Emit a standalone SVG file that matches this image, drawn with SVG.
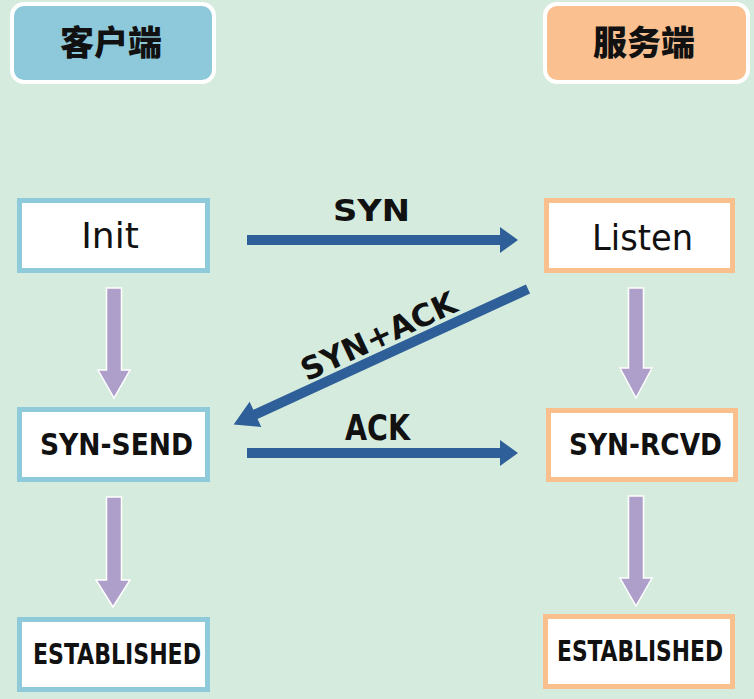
<svg xmlns="http://www.w3.org/2000/svg" width="754" height="699" viewBox="0 0 754 699">
<style>
.bg{fill:#d5ebdd}
.hdr{stroke:#ffffff;stroke-width:4}
.cn{font-family:"Noto Sans CJK SC","Noto Sans",sans-serif;font-weight:900;font-size:34px;fill:#111;text-anchor:middle}
.box{fill:#ffffff;stroke-width:5}
.cl{stroke:#8fcadb}
.sv{stroke:#f9c08e}
.t{font-family:"DejaVu Sans","Liberation Sans",sans-serif;fill:#111;text-anchor:middle}
.b{font-family:"DejaVu Sans Condensed","DejaVu Sans","Liberation Sans",sans-serif;font-weight:bold}
.va{fill:#ae9fca;stroke:#ffffff;stroke-width:1.5;stroke-linejoin:miter}
.ha{fill:#2e5f98}
</style>
<rect class="bg" x="0" y="0" width="754" height="699"/>

<g id="header-client">
<rect class="hdr" x="12" y="4" width="202" height="78" rx="12" fill="#8dc9da"/>
<text class="cn" x="111" y="55">客户端</text>
</g>
<g id="header-server">
<rect class="hdr" x="545" y="4" width="203" height="78" rx="12" fill="#fbc090"/>
<text class="cn" x="644" y="55">服务端</text>
</g>

<g id="connectors">
<polygon class="va" points="106.5,288 121.5,288 121.5,370 130,370 114,398 98,370 106.5,370"/>
<polygon class="va" points="106.5,497 121.5,497 121.5,580 130,580 113,607 96,580 106.5,580"/>
<polygon class="va" points="628.5,288 643.5,288 643.5,368 652,368 636,398 620,368 628.5,368"/>
<polygon class="va" points="628.5,496 643.5,496 643.5,578 652,578 636,606 620,578 628.5,578"/>
<polygon class="ha" points="247,235 500,235 500,227 518,240 500,253 500,245 247,245"/>
<polygon class="ha" points="247,448 500,448 500,440 518,453 500,466 500,458 247,458"/>
<g transform="translate(528,289) rotate(155.3)">
<polygon class="ha" points="0,-5 300,-5 300,-14 324,0 300,14 300,5 0,5"/>
</g>
<text class="t b" x="371.5" y="221" font-size="30" textLength="77" lengthAdjust="spacingAndGlyphs">SYN</text>
<text class="t b" x="377.5" y="440" font-size="35" textLength="65" lengthAdjust="spacingAndGlyphs">ACK</text>
<text class="t b" x="379" y="347" font-size="31" textLength="168" lengthAdjust="spacingAndGlyphs" transform="rotate(-25 379 337)">SYN+ACK</text>
</g>

<g id="node-init">
<rect class="box cl" x="19.5" y="200.5" width="188" height="70"/>
<text class="t" x="110" y="248" font-size="36">Init</text>
</g>
<g id="node-listen">
<rect class="box sv" x="546.5" y="200.5" width="186" height="70"/>
<text class="t" x="642.5" y="250" font-size="35" textLength="101" lengthAdjust="spacingAndGlyphs">Listen</text>
</g>
<g id="node-syn-send">
<rect class="box cl" x="19.5" y="409.5" width="188" height="70"/>
<text class="t b" x="116.5" y="455" font-size="30" textLength="153" lengthAdjust="spacingAndGlyphs">SYN-SEND</text>
</g>
<g id="node-syn-rcvd">
<rect class="box sv" x="548.5" y="410.5" width="187" height="69"/>
<text class="t b" x="645.5" y="455" font-size="30" textLength="153" lengthAdjust="spacingAndGlyphs">SYN-RCVD</text>
</g>
<g id="node-established-client">
<rect class="box cl" x="19.5" y="619.5" width="188" height="70"/>
<text class="t b" x="117" y="664" font-size="28" textLength="168" lengthAdjust="spacingAndGlyphs">ESTABLISHED</text>
</g>
<g id="node-established-server">
<rect class="box sv" x="545.5" y="616.5" width="187" height="70"/>
<text class="t b" x="640" y="661" font-size="28" textLength="166" lengthAdjust="spacingAndGlyphs">ESTABLISHED</text>
</g>
</svg>
